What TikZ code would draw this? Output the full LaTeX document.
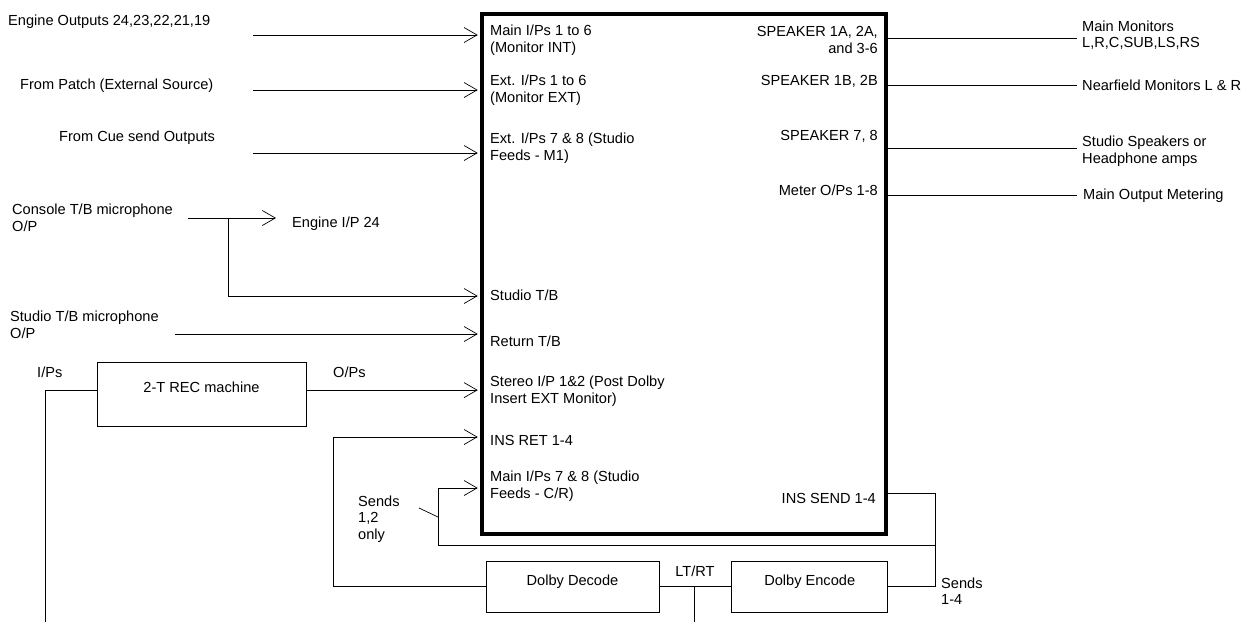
\documentclass[tikz,border=0pt]{standalone}
\usepackage{fontspec}
\setmainfont{Liberation Sans}
\usetikzlibrary{arrows.meta, positioning, calc}

\begin{document}
\begin{tikzpicture}[x=1pt, y=-1pt,
  every node/.style={font=\fontsize{14.6}{16.5}\selectfont, inner sep=0pt},
  txt/.style={anchor=west, align=left},
  rtxt/.style={anchor=east, align=right},
  unit/.style={draw, line width=0.7pt, text height=10.5pt, text depth=13pt},
  wire/.style={line width=0.7pt},
  sig/.style={wire, ->, shorten >=2pt},
  >={Straight Barb[length=13pt, width=15pt]}]
\useasboundingbox (0,0) rectangle (1249,622);

% monitor matrix
\node[draw, line width=4.5pt, minimum width=404pt, minimum height=520pt] (mon) at (684,274) {};
\node[txt] (mi16) at (490,40) {Main I/Ps 1 to 6\\(Monitor INT)};
\node[txt] (ei16) at (490,90) {Ext. I/Ps 1 to 6\\(Monitor EXT)};
\node[txt] (ei78) at (490,148) {Ext. I/Ps 7 \& 8 (Studio\\Feeds - M1)};
\node[txt] (stb) at (490,295.5) {Studio T/B};
\node[txt] (rtb) at (490,341) {Return T/B};
\node[txt] (sti) at (490,391) {Stereo I/P 1\&2 (Post Dolby\\Insert EXT Monitor)};
\node[txt] (iret) at (490,440) {INS RET 1-4};
\node[txt] (mi78) at (490,486) {Main I/Ps 7 \& 8 (Studio\\Feeds - C/R)};
\node[rtxt] (spa) at (878,40) {SPEAKER 1A, 2A,\\and 3-6};
\node[rtxt] (spb) at (878,81) {SPEAKER 1B, 2B};
\node[rtxt] (sp78) at (878,136) {SPEAKER 7, 8};
\node[rtxt] (meter) at (878,190) {Meter O/Ps 1-8};
\node[rtxt] (isend) at (876,498) {INS SEND 1-4};

% sources
\node[txt] (engl) at (8,21.5) {Engine Outputs 24,23,22,21,19};
\node[txt] (patchl) at (20,86) {From Patch (External Source)};
\node[txt] (cuel) at (59,138) {From Cue send Outputs};
\node[txt] (ctbl) at (12,218) {Console T/B microphone\\O/P};
\node[txt] (ei24) at (292,224) {Engine I/P 24};
\node[txt] (stml) at (10,325) {Studio T/B microphone\\O/P};
\node[txt] (ipsl) at (37,372) {I/Ps};
\node[txt] (opsl) at (333,372) {O/Ps};
\node[txt] (s12l) at (358,519) {Sends\\1,2\\only};
\node[txt] (s14l) at (941,591) {Sends\\1-4};

\coordinate (eng) at (253,35);
\coordinate (patch) at (253,90);
\coordinate (cue) at (253,153);
\coordinate (ctb) at (188,218);
\coordinate (tap) at (228,218);
\coordinate (stm) at (175,334);
\draw[sig] (eng) -- (eng -| mon.west);
\draw[sig] (patch) -- (patch -| mon.west);
\draw[sig] (cue) -- (cue -| mon.west);
\draw[sig] (ctb) -- ([xshift=-14pt]ei24.west |- ctb);
\draw[sig] (tap) |- (mon.west |- 0,296);
\draw[sig] (stm) -- (stm -| mon.west);

% 2-track machine
\node[unit, minimum width=209pt, minimum height=64pt] (rec) at (201.5,394) {2-T REC machine};
\coordinate (recfeed) at (45,622);
\draw[sig] (rec.mid east) -- (rec.mid east -| mon.west);
\draw[wire] (rec.mid west) -| (recfeed);

% dolby insert loop
\node[unit, minimum width=173pt, minimum height=51pt] (dec) at (572.5,586.5) {Dolby Decode};
\node[unit, minimum width=156pt, minimum height=51pt, right=72pt of dec] (enc) {Dolby Encode};
\node (ltrt) at (695,571) {LT/RT};
\coordinate (lrdown) at (694,622);
\draw[wire] (dec) -- (enc);
\draw[wire] (lrdown |- dec.east) -- (lrdown);

\coordinate (ret) at (333,437);
\coordinate (m78) at (438,488);
\coordinate (bus) at (935,545);
\coordinate (snd) at (935,493);
\coordinate (tick) at (419,508);
\draw[sig] (dec.west) -| (ret) -- (ret -| mon.west);
\draw[sig] (bus) -- (bus -| m78) -- (m78) -- (m78 -| mon.west);
\draw[wire] (tick) -- ++(19,9);
\draw[wire] (snd -| mon.east) -- (snd) |- (enc.east);

% outputs
\node[txt] (mainmon) at (1082,35) {Main Monitors\\L,R,C,SUB,LS,RS};
\node[txt] (nearmon) at (1082,85) {Nearfield Monitors L \& R};
\node[txt] (studspk) at (1082,151) {Studio Speakers or\\Headphone amps};
\node[txt] (metering) at (1083,196) {Main Output Metering};
\coordinate (o1) at (1077,38);
\coordinate (o2) at (1077,85);
\coordinate (o3) at (1077,148);
\coordinate (o4) at (1077,195);
\draw[wire] (o1 -| mon.east) -- (o1);
\draw[wire] (o2 -| mon.east) -- (o2);
\draw[wire] (o3 -| mon.east) -- (o3);
\draw[wire] (o4 -| mon.east) -- (o4);
\end{tikzpicture}
\end{document}
